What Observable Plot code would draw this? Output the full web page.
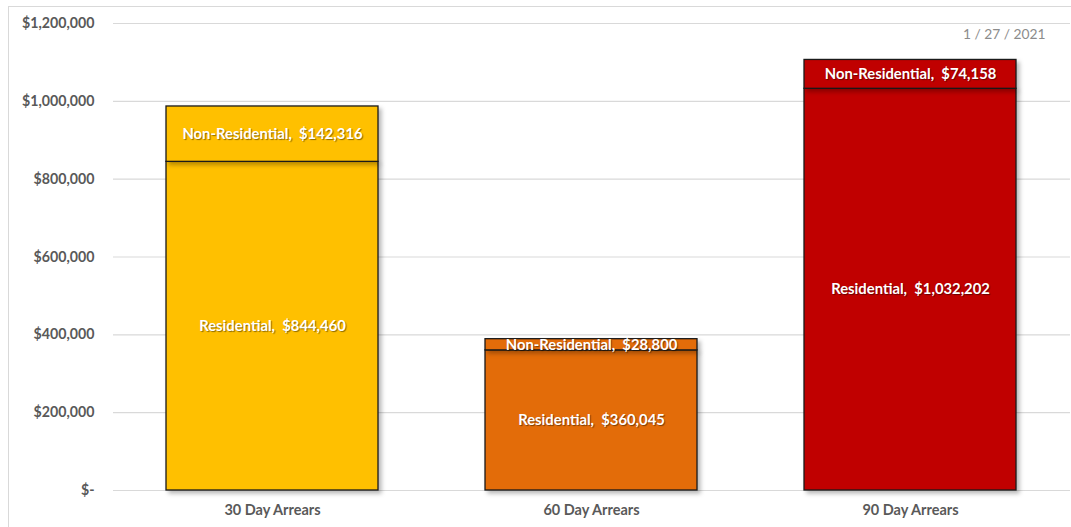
<!DOCTYPE html>
<html>
<head>
<meta charset="utf-8">
<script src="https://cdn.jsdelivr.net/npm/d3@7"></script>
<script src="https://cdn.jsdelivr.net/npm/@observablehq/plot@0.6"></script>
<style>
  html, body { margin: 0; padding: 0; background: #fff; overflow: hidden; width: 1071px; height: 527px; }
  #frame { position: absolute; left: 8px; top: 6px; width: 1100px; height: 560px; border: 1px solid #d9d9d9; box-sizing: border-box; }
  #chart { position: absolute; left: 0; top: 0; }
  #date { position: absolute; left: 963px; top: 25px; font: 13.8px Lato, "Open Sans", sans-serif; color: #8c8c8c; white-space: pre; }
  #chart svg g[aria-label="bar"] rect { filter: drop-shadow(3px 3px 2px rgba(0,0,0,0.28)); }
  #chart svg g[aria-label="text"] text { white-space: pre; text-shadow: 1px 1px 1px rgba(0,0,0,0.45); }
</style>
</head>
<body>
<div id="frame"></div>
<div id="chart"></div>
<div id="date">1 / 27 / 2021</div>
<script>
const categories = ["30 Day Arrears", "60 Day Arrears", "90 Day Arrears"];
const seriesNames = ["Residential", "Non-Residential"];
const residential = [844460, 360045, 1032202];
const nonResidential = [142316, 28800, 74158];
const barColors = ["#FFC000", "#E36C09", "#C00000"];
const yTicks = [0, 200000, 400000, 600000, 800000, 1000000, 1200000];

const rows = [];
categories.forEach((c, i) => {
  rows.push({cat: c, series: seriesNames[0], value: residential[i]});
  rows.push({cat: c, series: seriesNames[1], value: nonResidential[i]});
});
const money = d3.format(",");
const tickFmt = d => d === 0 ? "$-" : "$" + money(d);

const chart = Plot.plot({
  width: 1071,
  height: 527,
  marginLeft: 113,
  marginRight: 1,
  marginTop: 23,
  marginBottom: 37,
  style: { fontFamily: "Lato, 'Open Sans', sans-serif", background: "transparent", overflow: "visible" },
  x: { domain: categories, paddingInner: 0.335, paddingOuter: 0.1675, label: null },
  y: { domain: [0, 1200000], label: null },
  color: { domain: categories, range: barColors },
  marks: [
    Plot.gridY(yTicks, { stroke: "#d9d9d9", strokeOpacity: 1, strokeWidth: 1.2 }),
    Plot.axisY(yTicks, { tickSize: 0, tickPadding: 19, tickFormat: tickFmt, fontSize: 14.2, fontWeight: "bold", fill: "#595959", label: null }),
    Plot.axisX({ tickSize: 0, tickPadding: 14, fontSize: 14.5, fontWeight: "bold", fill: "#595959", label: null }),
    Plot.barY(rows, Plot.stackY({ x: "cat", y: "value", fill: "cat", stroke: "#1a1a1a", strokeWidth: 1.3 })),
    Plot.text(rows, Plot.stackY({ x: "cat", y: "value", text: d => `${d.series},  $${money(d.value)}`, fill: "white", fontWeight: "bold", fontSize: 14.8 }))
  ]
});
document.getElementById("chart").appendChild(chart);
</script>
</body>
</html>
